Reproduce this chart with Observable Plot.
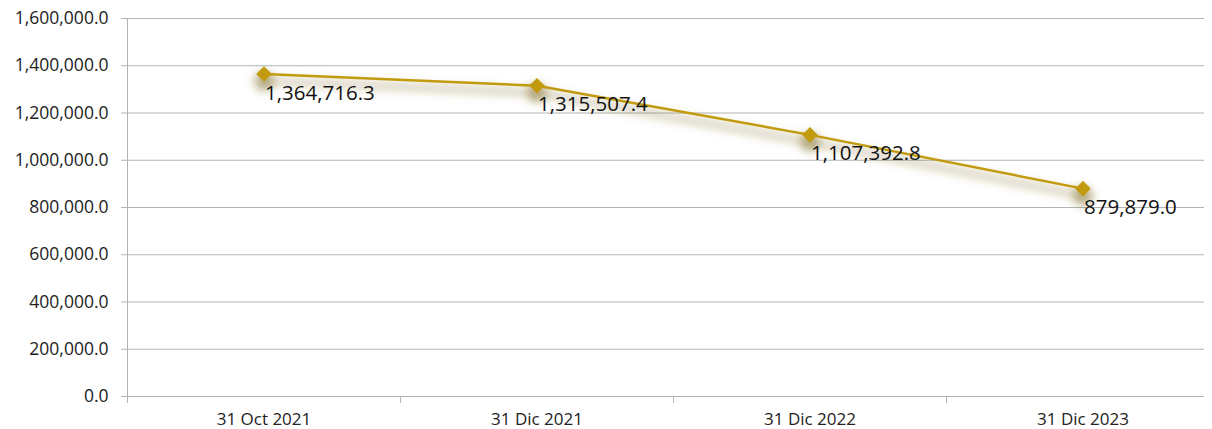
<!DOCTYPE html>
<html><head><meta charset="utf-8">
<script src="https://cdn.jsdelivr.net/npm/d3@7"></script>
<script src="https://cdn.jsdelivr.net/npm/@observablehq/plot@0.6"></script>
<style>
html,body{margin:0;padding:0;background:#fff;}
svg{display:block;}
</style>
</head><body>
<div id="chart"></div>
<script>
const dates = ["31 Oct 2021", "31 Dic 2021", "31 Dic 2022", "31 Dic 2023"];
const values = [1364716.3, 1315507.4, 1107392.8, 879879.0];
const yTicks = [0, 200000, 400000, 600000, 800000, 1000000, 1200000, 1400000, 1600000];

const data = dates.map((d, i) => ({i, date: d, value: values[i]}));
const idx = dates.map((d, i) => i);
const bounds = dates.map((d, i) => i - 0.5);
const fmt = d3.format(",.1f");
const font = "'Open Sans', Lato, sans-serif";
const gold = "#C29A0E";
const shade = "#7a6418";

const chart = Plot.plot({
  width: 1212,
  height: 429,
  marginLeft: 127,
  marginRight: 8,
  marginTop: 18,
  marginBottom: 33,
  style: {fontFamily: font, background: "#fff", overflow: "visible"},
  x: {domain: [-0.5, dates.length - 0.5], range: [127, 1219]},
  y: {domain: [0, 1600000]},
  marks: [
    Plot.ruleY(yTicks, {stroke: "#b3b3b3", strokeWidth: 1}),
    Plot.ruleX([bounds[0]], {y1: 0, y2: 1600000, stroke: "#b3b3b3", strokeWidth: 1}),
    Plot.axisY({ticks: yTicks, tickFormat: fmt, tickSize: 6, tickPadding: 13, stroke: "#b3b3b3",
      fontSize: 17.5, fill: "#222", label: null}),
    Plot.axisX({ticks: bounds, tickFormat: () => "", tickSize: 7, stroke: "#b3b3b3", label: null}),
    Plot.axisX({ticks: idx, tickFormat: i => dates[i], tickSize: 0, tickPadding: 16,
      fontSize: 17, fill: "#222", label: null}),
    Plot.line(data, {x: "i", y: "value", stroke: shade, strokeWidth: 8, strokeOpacity: 0.28, dy: 7}),
    Plot.dot(data, {x: "i", y: "value", r: 10, fill: shade, fillOpacity: 0.45, stroke: "none", dy: 7}),
    Plot.line(data, {x: "i", y: "value", stroke: gold, strokeWidth: 2.5}),
    Plot.dot(data, {x: "i", y: "value", symbol: "diamond2", r: 7, fill: gold, stroke: "none"}),
    Plot.text(data, {x: "i", y: "value", text: d => fmt(d.value), textAnchor: "start", dx: 1, dy: 19,
      fontSize: 20.5, fill: "#111"})
  ]
});

const svg = d3.select(chart);
const defs = svg.insert("defs", ":first-child");
defs.append("filter").attr("id", "blurShadow").attr("x", "-20%").attr("y", "-60%")
  .attr("width", "140%").attr("height", "220%")
  .append("feGaussianBlur").attr("stdDeviation", 4);
const lineGroups = svg.selectAll("g[aria-label='line']").nodes();
const dotGroups = svg.selectAll("g[aria-label='dot']").nodes();
if (lineGroups[0]) lineGroups[0].setAttribute("filter", "url(#blurShadow)");
if (dotGroups[0]) dotGroups[0].setAttribute("filter", "url(#blurShadow)");

document.getElementById("chart").appendChild(chart);
</script>
</body></html>
